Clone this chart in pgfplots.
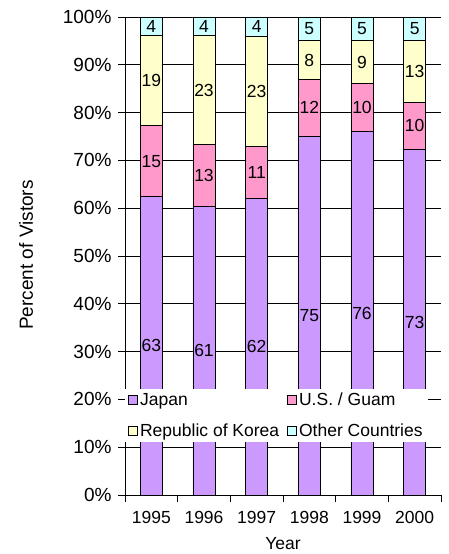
\documentclass[border=0pt]{standalone}
\usepackage{pgfplots}
\pgfplotsset{compat=1.18}
\usepackage{fontspec}
\setmainfont{Liberation Sans}
\definecolor{cJapan}{HTML}{CC99FF}
\definecolor{cUS}{HTML}{FF99CC}
\definecolor{cKorea}{HTML}{FFFFCC}
\definecolor{cOther}{HTML}{CCFFFF}
\pgfplotsset{
  legimg/.style={legend image code/.code={\draw[##1,draw=black,line width=0.9pt] (0pt,-4.5pt) rectangle (9pt,4.5pt);}},
  common/.style={
    scale only axis, width=316pt, height=478pt,
    xmin=-0.5, xmax=5.5, ymin=0, ymax=100,
  }
}
\begin{document}
\begin{tikzpicture}
\begin{axis}[common,
  ybar stacked, bar width=22pt,
  axis lines*=left,
  axis line style={line width=0.8pt},
  xtick={-0.5,0.5,...,5.5},
  x tick label as interval,
  xticklabels={1995,1996,1997,1998,1999,2000},
  ytick={0,10,...,100},
  yticklabel={\pgfmathprintnumber{\tick}\%},
  /pgf/number format/assume math mode=true,
  tick align=outside, major tick length=7pt,
  tick style={black, line width=0.8pt},
  ymajorgrids, grid style={black, line width=0.8pt},
  every x tick label/.append style={font=\fontsize{17.5}{20}\selectfont, yshift=-6pt},
  every y tick label/.append style={font=\fontsize{19}{22}\selectfont, xshift=-3pt},
  every axis y label/.style={at={(axis description cs:0,0.502)}, xshift=-99pt, rotate=90, anchor=center, font=\fontsize{19}{22}\selectfont},
  every axis x label/.style={at={(axis description cs:0.5,0)}, yshift=-49pt, anchor=center, font=\fontsize{17.5}{20}\selectfont},
  ylabel={Percent of Vistors},
  xlabel={Year},
  legend columns=2,
  legend cell align=left,
  legend style={at={(0,0.2218)}, anchor=north west, draw=none, fill=white,
    font=\fontsize{17.5}{20}\selectfont, row sep=12pt,
    /tikz/every even column/.append style={column sep=6pt}},
]
\addplot[fill=cJapan, draw=black, line width=0.9pt, legimg] coordinates {(0,62.38) (1,60.40) (2,62) (3,75) (4,76) (5,72.28)};
\addlegendentry{Japan}
\addplot[fill=cUS, draw=black, line width=0.9pt, legimg] coordinates {(0,14.85) (1,12.87) (2,11) (3,12) (4,10) (5,9.90)};
\addlegendentry{U.S. / Guam}
\addplot[fill=cKorea, draw=black, line width=0.9pt, legimg] coordinates {(0,18.81) (1,22.77) (2,23) (3,8) (4,9) (5,12.87)};
\addlegendentry{Republic of Korea}
\addplot[fill=cOther, draw=black, line width=0.9pt, legimg] coordinates {(0,3.96) (1,3.96) (2,4) (3,5) (4,5) (5,4.95)};
\addlegendentry{Other Countries}
\end{axis}
\begin{axis}[common, hide axis]
\addplot[only marks, mark=none, nodes near coords, point meta=explicit symbolic,
  every node near coord/.append style={anchor=center, inner sep=0pt, font=\fontsize{17.5}{20}\selectfont, text=black}]
  table[meta=lab] {
x y lab
0 31.19 63
1 30.20 61
2 31.00 62
3 37.50 75
4 38.00 76
5 36.14 73
0 69.80 15
1 66.83 13
2 67.50 11
3 81.00 12
4 81.00 10
5 77.23 10
0 86.63 19
1 84.65 23
2 84.50 23
3 91.00 8
4 90.50 9
5 88.61 13
0 98.02 4
1 98.02 4
2 98.00 4
3 97.50 5
4 97.50 5
5 97.52 5
};
\coordinate (O) at (rel axis cs:0,0);
\end{axis}
\pgfresetboundingbox
\path[use as bounding box] ([shift={(-125pt,-59pt)}]O) rectangle ([shift={(323pt,495pt)}]O);
\end{tikzpicture}
\end{document}
